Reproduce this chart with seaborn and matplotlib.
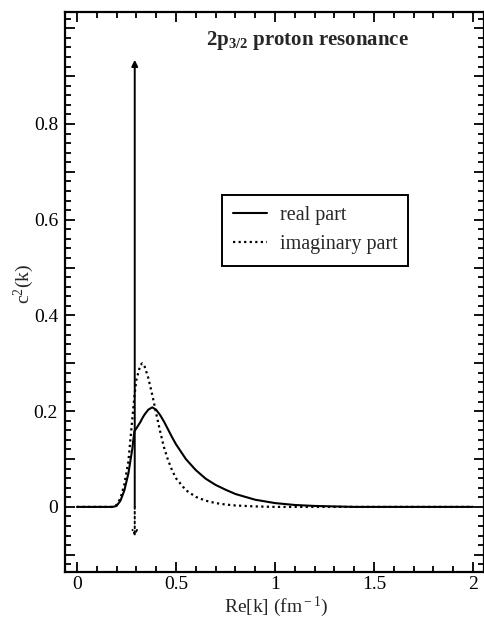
import seaborn as sns
import pandas as pd
import matplotlib.pyplot as plt
import numpy as np
from matplotlib.ticker import MultipleLocator, FixedLocator, FixedFormatter

# --- c^2(k) for the 2p3/2 proton resonance ---

k = [0.0, 0.18, 0.20, 0.22, 0.24, 0.26, 0.28, 0.29, 0.30, 0.32, 0.33, 0.34,
     0.36, 0.38, 0.40, 0.42, 0.44, 0.46, 0.48, 0.50, 0.55, 0.60, 0.65, 0.70,
     0.75, 0.80, 0.90, 1.0, 1.1, 1.2, 1.4, 2.0]
real_part = [0.0, 0.0, 0.002, 0.013, 0.035, 0.070, 0.122, 0.158, 0.164, 0.177,
             0.185, 0.192, 0.203, 0.208, 0.203, 0.192, 0.178, 0.162, 0.146,
             0.131, 0.100, 0.077, 0.059, 0.046, 0.036, 0.027, 0.015, 0.008,
             0.004, 0.002, 0.0, 0.0]
imag_part = [0.0, 0.0, 0.004, 0.018, 0.048, 0.095, 0.185, 0.230, 0.265, 0.296,
             0.300, 0.296, 0.270, 0.235, 0.196, 0.158, 0.124, 0.098, 0.077,
             0.060, 0.035, 0.021, 0.013, 0.008, 0.005, 0.003, 0.001, 0.0,
             0.0, 0.0, 0.0, 0.0]

arrow_k = 0.292
arrow_top = 0.934
arrow_bottom = -0.062

yticks = [-0.1, 0.0, 0.1, 0.2, 0.3, 0.4, 0.5, 0.6, 0.7, 0.8, 0.9, 1.0]
ylabels = ['', '0', '', '0.2', '', '0.4', '', '0.6', '', '0.8', '', '']
xticks = [0.0, 0.5, 1.0, 1.5, 2.0]
xlabels = ['0', '0.5', '1', '1.5', '2']

df = pd.DataFrame({'k': k, 'real part': real_part, 'imaginary part': imag_part})

sns.set_style('ticks')
plt.rcParams['font.family'] = ['Liberation Serif', 'DejaVu Serif']
plt.rcParams['mathtext.fontset'] = 'custom'
plt.rcParams['mathtext.rm'] = 'Liberation Serif'
plt.rcParams['mathtext.it'] = 'Liberation Serif:italic'
plt.rcParams['mathtext.bf'] = 'Liberation Serif:bold'

fig = plt.figure(figsize=(4.85, 6.19), dpi=100)
ax = fig.add_axes([65 / 485, 1 - 572 / 619, 419 / 485, 560 / 619])

sns.lineplot(data=df, x='k', y='real part', ax=ax, color='black', lw=1.5,
             label='real part')
sns.lineplot(data=df, x='k', y='imaginary part', ax=ax, color='black', lw=1.6,
             linestyle=(0, (1, 1.5)), label='imaginary part')

# resonance position arrows
ax.annotate('', xy=(arrow_k, arrow_top), xytext=(arrow_k, 0.0),
            arrowprops=dict(arrowstyle='-|>', color='black', lw=1.4,
                            mutation_scale=9, shrinkA=0, shrinkB=0))
ax.annotate('', xy=(arrow_k, arrow_bottom), xytext=(arrow_k, 0.0),
            arrowprops=dict(arrowstyle='->', color='black', lw=1.4,
                            linestyle=(0, (1, 1.5)), mutation_scale=8,
                            shrinkA=0, shrinkB=0))

ax.set_xlim(-0.06, 2.055)
ax.set_ylim(-0.136, 1.034)

ax.xaxis.set_major_locator(FixedLocator(xticks))
ax.xaxis.set_major_formatter(FixedFormatter(xlabels))
ax.xaxis.set_minor_locator(MultipleLocator(0.1))
ax.yaxis.set_major_locator(FixedLocator(yticks))
ax.yaxis.set_major_formatter(FixedFormatter(ylabels))
ax.yaxis.set_minor_locator(MultipleLocator(0.02))

ax.tick_params(which='both', direction='in', top=True, right=True,
               width=1.3, labelsize=14, colors='black')
ax.tick_params(axis='x', pad=3)
ax.tick_params(axis='y', pad=5)
ax.tick_params(which='major', length=7)
ax.tick_params(which='minor', length=4)
for s in ax.spines.values():
    s.set_linewidth(1.6)
    s.set_color('black')

ax.set_xlabel('Re[k] (fm$^{\\rm -1}$)', fontsize=14)
ax.set_ylabel('c$^{\\rm 2}$(k)', fontsize=14)
ax.xaxis.set_label_coords(0.504, -0.04)
ax.yaxis.set_label_coords(-0.07, 0.514)

ax.text(0.654, 0.965, '2p$_{\\mathbf{3/2}}$ proton resonance', fontsize=15,
        fontweight='bold', va='baseline', ha='left')

leg = ax.legend(loc='upper left', bbox_to_anchor=(0.375, 0.673),
                borderaxespad=0, fontsize=14.5, fancybox=False,
                handlelength=1.7, handletextpad=0.6, labelspacing=0.5,
                borderpad=0.55)
leg.get_frame().set_edgecolor('black')
leg.get_frame().set_linewidth(1.4)
leg.get_frame().set_alpha(1)

plt.savefig('out.png', dpi=100)
